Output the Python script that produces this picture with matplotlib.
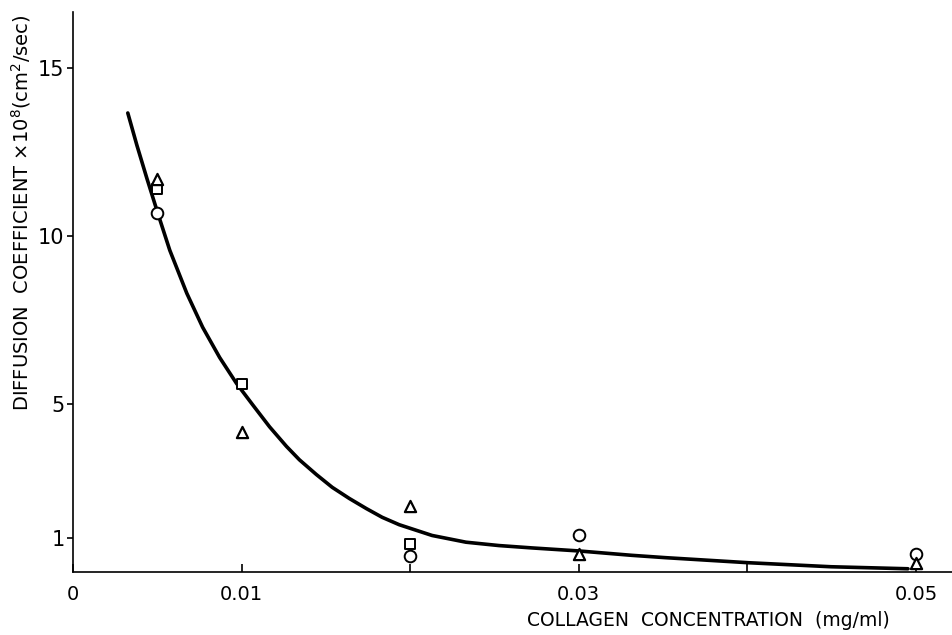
import matplotlib
matplotlib.use("Agg")
import matplotlib.pyplot as plt

plt.rcParams['font.family'] = ['DejaVu Sans']

# fitted curve
curve_x = [0.00325, 0.00379, 0.00438, 0.00503, 0.00574, 0.00675, 0.00769, 0.0087,
           0.0097, 0.01065, 0.01166, 0.01266, 0.01343, 0.01444, 0.01538, 0.01639,
           0.0174, 0.01834, 0.01935, 0.0213, 0.02331, 0.02527, 0.02722, 0.03,
           0.03314, 0.03515, 0.04006, 0.04497, 0.04953]
curve_y = [13.65, 12.69, 11.71, 10.67, 9.57, 8.29, 7.28, 6.38,
           5.61, 4.98, 4.32, 3.74, 3.34, 2.90, 2.52, 2.19,
           1.89, 1.63, 1.41, 1.09, 0.89, 0.79, 0.72, 0.63,
           0.50, 0.43, 0.28, 0.16, 0.10]

# measured points
circle_x = [0.005, 0.02, 0.03, 0.05]
circle_y = [10.67, 0.49, 1.09, 0.55]
square_x = [0.005, 0.01, 0.02]
square_y = [11.4, 5.6, 0.85]
tri_x = [0.005, 0.01, 0.02, 0.03, 0.05]
tri_y = [11.7, 4.18, 1.98, 0.55, 0.28]

yticks = [1, 5, 10, 15]
xticks_lab = [0, 0.01, 0.03, 0.05]
xticks_lab_txt = ['0', '0.01', '0.03', '0.05']
xticks_minor = [0.02, 0.04]

fig = plt.figure(figsize=(9.53, 6.35), dpi=100)
ax = fig.add_axes([0.0766, 0.099, 0.9234, 0.882])

ax.plot(curve_x, curve_y, color='black', lw=2.6, solid_capstyle='round',
        solid_joinstyle='round', zorder=2)
ax.scatter(circle_x, circle_y, marker='o', s=70, facecolors='white', edgecolors='black', linewidths=1.4, zorder=3)
ax.scatter(square_x, square_y, marker='s', s=45, facecolors='white', edgecolors='black', linewidths=1.4, zorder=3)
ax.scatter(tri_x, tri_y, marker='^', s=65, facecolors='white', edgecolors='black', linewidths=1.6, zorder=3)

ax.set_xlim(0, 0.0522)
ax.set_ylim(0, 16.65)

for s in ['top', 'right']:
    ax.spines[s].set_visible(False)
for s in ['left', 'bottom']:
    ax.spines[s].set_linewidth(1.2)

ax.set_yticks(yticks)
ax.set_yticklabels([str(v) for v in yticks], fontsize=15)
ax.tick_params(axis='y', direction='out', length=4, width=1.2, pad=2)

ax.set_xticks(xticks_lab)
ax.set_xticklabels(xticks_lab_txt, fontsize=14)
ax.set_xticks(xticks_minor, minor=True)
ax.tick_params(axis='x', which='both', direction='in', length=6, width=1.2, pad=9)

ax.set_xlabel('COLLAGEN  CONCENTRATION  (mg/ml)', fontsize=13.5, ha='right', va='center')
ax.xaxis.set_label_coords(0.928, -0.086)
ax.set_ylabel(r'DIFFUSION  COEFFICIENT $\times$10$^8$(cm$^2$/sec)', fontsize=14, ha='right')
ax.yaxis.set_label_coords(-0.046, 0.995)

fig.savefig('out.png', dpi=100)
